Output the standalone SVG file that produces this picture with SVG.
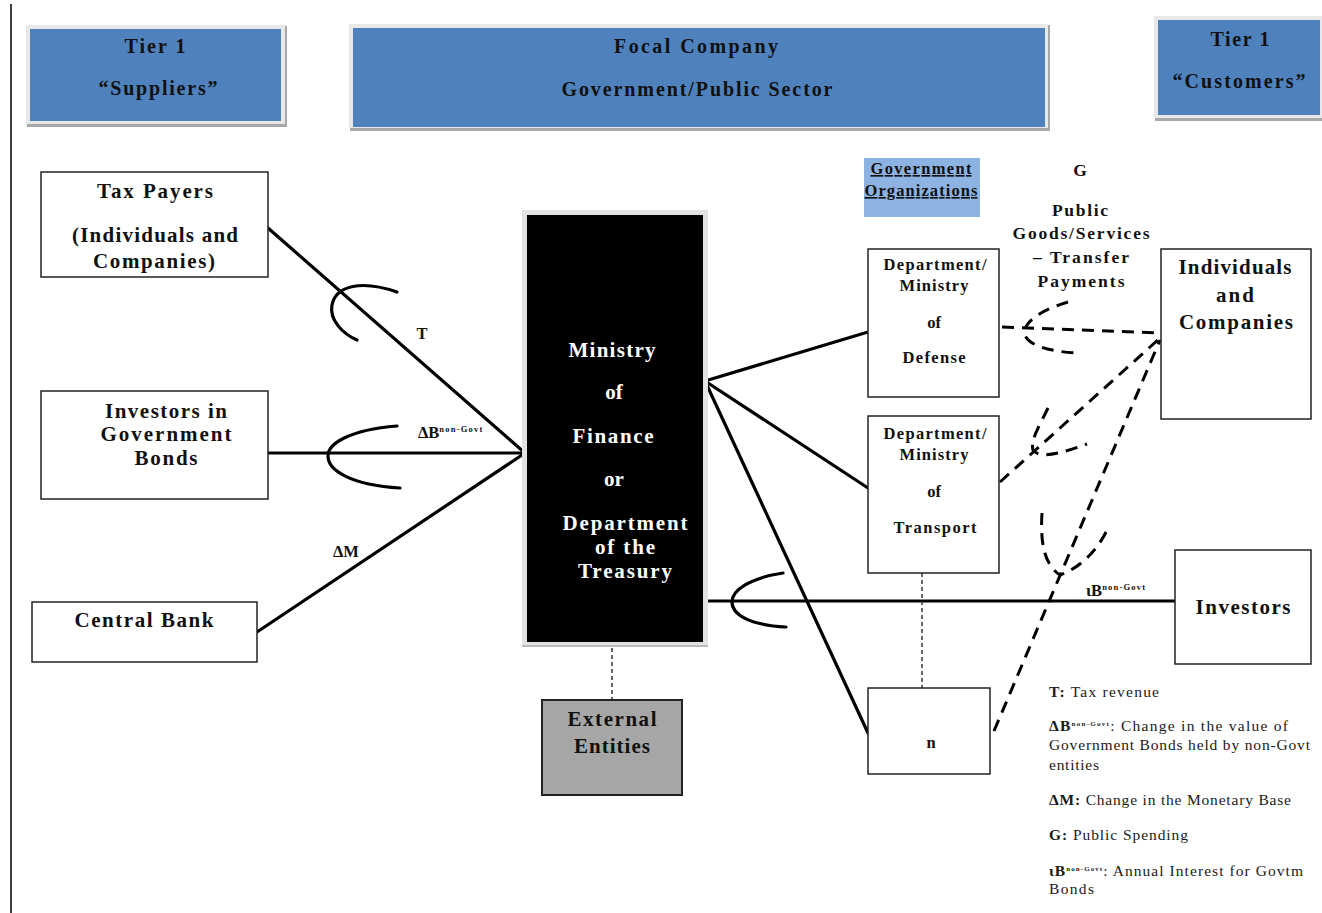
<svg xmlns="http://www.w3.org/2000/svg" width="1322" height="913" viewBox="0 0 1322 913">
  <style>
    .lbl { font-family: "Liberation Serif", "Times New Roman", serif; font-weight: bold; fill: #111; text-anchor: middle; }
    .hdr { font-size: 20px; }
    .big { font-size: 21px; }
    .mid { font-size: 17.5px; }
    .sm { font-size: 16.5px; }
    .wht { fill: #fff; }
    .sup { font-size: 8.5px; letter-spacing: 1.2px; }
    .leg { font-family: "Liberation Serif", "Times New Roman", serif; font-size: 15.5px; fill: #1a1a1a; }
    .leg .b { font-weight: bold; }
    .box { fill: #fff; stroke: #222; stroke-width: 1.5; }
    .solid { fill: none; stroke: #000; stroke-width: 3.2; stroke-linecap: round; }
    .arc { fill: none; stroke: #000; stroke-width: 3.2; stroke-linecap: round; }
    .dash { fill: none; stroke: #000; stroke-width: 3; stroke-dasharray: 12 8; }
    .dot { fill: none; stroke: #333; stroke-width: 1.5; stroke-dasharray: 4 3; }
    .frame { fill: #e8e8e8; }
    .shadow { fill: #a8a8a8; }
    .blue { fill: #4f81bd; }
  </style>

  <!-- page margin rule -->
  <line x1="11" y1="4" x2="11" y2="913" stroke="#000" stroke-width="1.5"/>

  <!-- tier headers -->
  <g id="hdr-suppliers">
    <rect class="shadow" x="27" y="26" width="260" height="101"/>
    <rect class="frame" x="26" y="25" width="259" height="99"/>
    <rect class="blue" x="30" y="29" width="251" height="92"/>
    <text class="lbl hdr" x="155" y="53" textLength="61">Tier 1</text>
    <text class="lbl hdr" x="158" y="95" textLength="119">“Suppliers”</text>
  </g>
  <g id="hdr-focal">
    <rect class="shadow" x="350" y="25" width="700" height="106"/>
    <rect class="frame" x="349" y="24" width="699" height="104"/>
    <rect class="blue" x="353" y="28" width="692" height="99"/>
    <text class="lbl hdr" x="696" y="53" textLength="164">Focal Company</text>
    <text class="lbl hdr" x="697" y="96" textLength="271">Government/Public Sector</text>
  </g>
  <g id="hdr-customers">
    <rect class="shadow" x="1155" y="17" width="170" height="104"/>
    <rect class="frame" x="1154" y="16" width="170" height="102"/>
    <rect class="blue" x="1158" y="20" width="162" height="95"/>
    <text class="lbl hdr" x="1240" y="46" textLength="59">Tier 1</text>
    <text class="lbl hdr" x="1239" y="88" textLength="133">“Customers”</text>
  </g>

  <!-- connectors -->
  <g id="connectors">
    <!-- suppliers into the ministry -->
    <line class="solid" x1="268" y1="228" x2="525" y2="453"/>
    <line class="solid" x1="268" y1="453" x2="525" y2="453"/>
    <line class="solid" x1="257" y1="632" x2="525" y2="453"/>
    <path class="arc" d="M397 292 C362 280 336 285 332 305 C329 320 343 334 357 340"/>
    <path class="arc" d="M397 426 C348 430 328 444 328 456 C328 470 350 485 400 488"/>
    <!-- ministry out to the departments -->
    <line class="solid" x1="705" y1="381" x2="868" y2="332"/>
    <line class="solid" x1="705" y1="381" x2="868" y2="488"/>
    <line class="solid" x1="705" y1="381" x2="868" y2="733"/>
    <!-- interest to investors -->
    <line class="solid" x1="708" y1="601" x2="1175" y2="601"/>
    <path class="arc" d="M783 573 C750 578 732 590 732 602 C732 615 750 625 786 627"/>
    <!-- spending flows to individuals and companies -->
    <line class="dash" x1="1002" y1="327" x2="1159" y2="333"/>
    <line class="dash" x1="1000" y1="482" x2="1159" y2="339"/>
    <line class="dash" x1="994" y1="731" x2="1160" y2="340"/>
    <path class="dash" d="M1068 302 C1035 312 1022 325 1025 335 C1028 345 1050 352 1078 353"/>
    <path class="dash" d="M1048 408 C1040 425 1030 440 1033 450 C1040 460 1065 452 1087 444"/>
    <path class="dash" d="M1042 513 C1040 545 1045 565 1060 575 C1080 568 1098 550 1108 528"/>
    <!-- dotted links -->
    <line class="dot" x1="612" y1="648" x2="612" y2="700"/>
    <line class="dot" x1="922" y1="573" x2="922" y2="688"/>
    <!-- flow labels -->
    <text class="lbl sm" x="422" y="339">T</text>
    <text class="lbl sm" x="418" y="438" style="text-anchor:start">ΔB<tspan class="sup" dy="-6">non-Govt</tspan></text>
    <text class="lbl sm" x="333" y="557" style="text-anchor:start">ΔM</text>
    <text class="lbl sm" x="1086" y="596" style="text-anchor:start">ιB<tspan class="sup" dy="-6">non-Govt</tspan></text>
  </g>

  <!-- suppliers -->
  <g id="tax-payers">
    <rect class="box" x="41" y="172" width="227" height="105"/>
    <text class="lbl big" x="155" y="198" textLength="116">Tax Payers</text>
    <text class="lbl big" x="155" y="242" textLength="166">(Individuals and</text>
    <text class="lbl big" x="154" y="268" textLength="122">Companies)</text>
  </g>
  <g id="bond-investors">
    <rect class="box" x="41" y="391" width="227" height="108"/>
    <text class="lbl big" x="166" y="418" textLength="122">Investors in</text>
    <text class="lbl big" x="166" y="441" textLength="131">Government</text>
    <text class="lbl big" x="166" y="465" textLength="63">Bonds</text>
  </g>
  <g id="central-bank">
    <rect class="box" x="32" y="602" width="225" height="60"/>
    <text class="lbl big" x="144" y="627" textLength="139">Central Bank</text>
  </g>

  <!-- focal ministry -->
  <g id="ministry">
    <rect x="522" y="210" width="186" height="437" fill="#e2e2e2"/>
    <rect x="522" y="645" width="186" height="2" fill="#bbb"/>
    <rect x="527" y="215" width="176" height="427" fill="#000"/>
    <text class="lbl big wht" x="612" y="357" textLength="87">Ministry</text>
    <text class="lbl big wht" x="614" y="399">of</text>
    <text class="lbl big wht" x="613" y="443" textLength="81">Finance</text>
    <text class="lbl big wht" x="614" y="486">or</text>
    <text class="lbl big wht" x="625" y="530" textLength="125">Department</text>
    <text class="lbl big wht" x="625" y="554" textLength="60">of the</text>
    <text class="lbl big wht" x="625" y="578" textLength="94">Treasury</text>
  </g>
  <g id="external">
    <rect x="542" y="700" width="140" height="95" fill="#a6a6a6" stroke="#222" stroke-width="2"/>
    <text class="lbl big" x="612" y="726" textLength="89">External</text>
    <text class="lbl big" x="612" y="753" textLength="76">Entities</text>
  </g>

  <!-- government organizations -->
  <g id="gov-orgs">
    <rect x="864" y="158" width="116" height="59" fill="#8db3e2"/>
    <text class="lbl sm" x="921" y="174" textLength="101" text-decoration="underline">Government</text>
    <text class="lbl sm" x="921" y="196" textLength="113" text-decoration="underline">Organizations</text>
  </g>
  <g id="defense">
    <rect class="box" x="868" y="249" width="131" height="148"/>
    <text class="lbl sm" x="935" y="270" textLength="103">Department/</text>
    <text class="lbl sm" x="934" y="291" textLength="69">Ministry</text>
    <text class="lbl sm" x="934" y="328">of</text>
    <text class="lbl sm" x="934" y="363" textLength="63">Defense</text>
  </g>
  <g id="transport">
    <rect class="box" x="868" y="416" width="131" height="157"/>
    <text class="lbl sm" x="935" y="439" textLength="103">Department/</text>
    <text class="lbl sm" x="934" y="460" textLength="69">Ministry</text>
    <text class="lbl sm" x="934" y="497">of</text>
    <text class="lbl sm" x="935" y="533" textLength="83">Transport</text>
  </g>
  <g id="dept-n">
    <rect class="box" x="868" y="688" width="122" height="86"/>
    <text class="lbl sm" x="931" y="748">n</text>
  </g>

  <!-- spending label -->
  <g id="spending-label">
    <text class="lbl mid" x="1080" y="176">G</text>
    <text class="lbl mid" x="1080" y="216" textLength="56">Public</text>
    <text class="lbl mid" x="1081" y="239" textLength="137">Goods/Services</text>
    <text class="lbl mid" x="1081" y="263" textLength="96">– Transfer</text>
    <text class="lbl mid" x="1081" y="287" textLength="87">Payments</text>
  </g>

  <!-- customers -->
  <g id="individuals">
    <rect class="box" x="1161" y="249" width="150" height="170"/>
    <text class="lbl big" x="1235" y="274" textLength="113">Individuals</text>
    <text class="lbl big" x="1235" y="302" textLength="38">and</text>
    <text class="lbl big" x="1236" y="329" textLength="114">Companies</text>
  </g>
  <g id="investors">
    <rect class="box" x="1175" y="550" width="136" height="114"/>
    <text class="lbl big" x="1243" y="614" textLength="95">Investors</text>
  </g>

  <!-- key -->
  <g id="legend">
    <text class="leg" x="1049" y="697" textLength="110"><tspan class="b">T:</tspan> Tax revenue</text>
    <text class="leg" x="1049" y="731" textLength="239"><tspan class="b">ΔB<tspan font-size="7" dy="-5">non-Govt</tspan></tspan><tspan dy="5">: Change in the value of</tspan></text>
    <text class="leg" x="1049" y="750" textLength="261">Government Bonds held by non-Govt</text>
    <text class="leg" x="1049" y="770" textLength="50">entities</text>
    <text class="leg" x="1049" y="805" textLength="242"><tspan class="b">ΔM:</tspan> Change in the Monetary Base</text>
    <text class="leg" x="1049" y="840" textLength="139"><tspan class="b">G:</tspan> Public Spending</text>
    <text class="leg" x="1049" y="876" textLength="254"><tspan class="b">ιB<tspan font-size="7" dy="-5">non-Govt</tspan></tspan><tspan dy="5">: Annual Interest for Govtm</tspan></text>
    <text class="leg" x="1049" y="894" textLength="45">Bonds</text>
  </g>
</svg>
